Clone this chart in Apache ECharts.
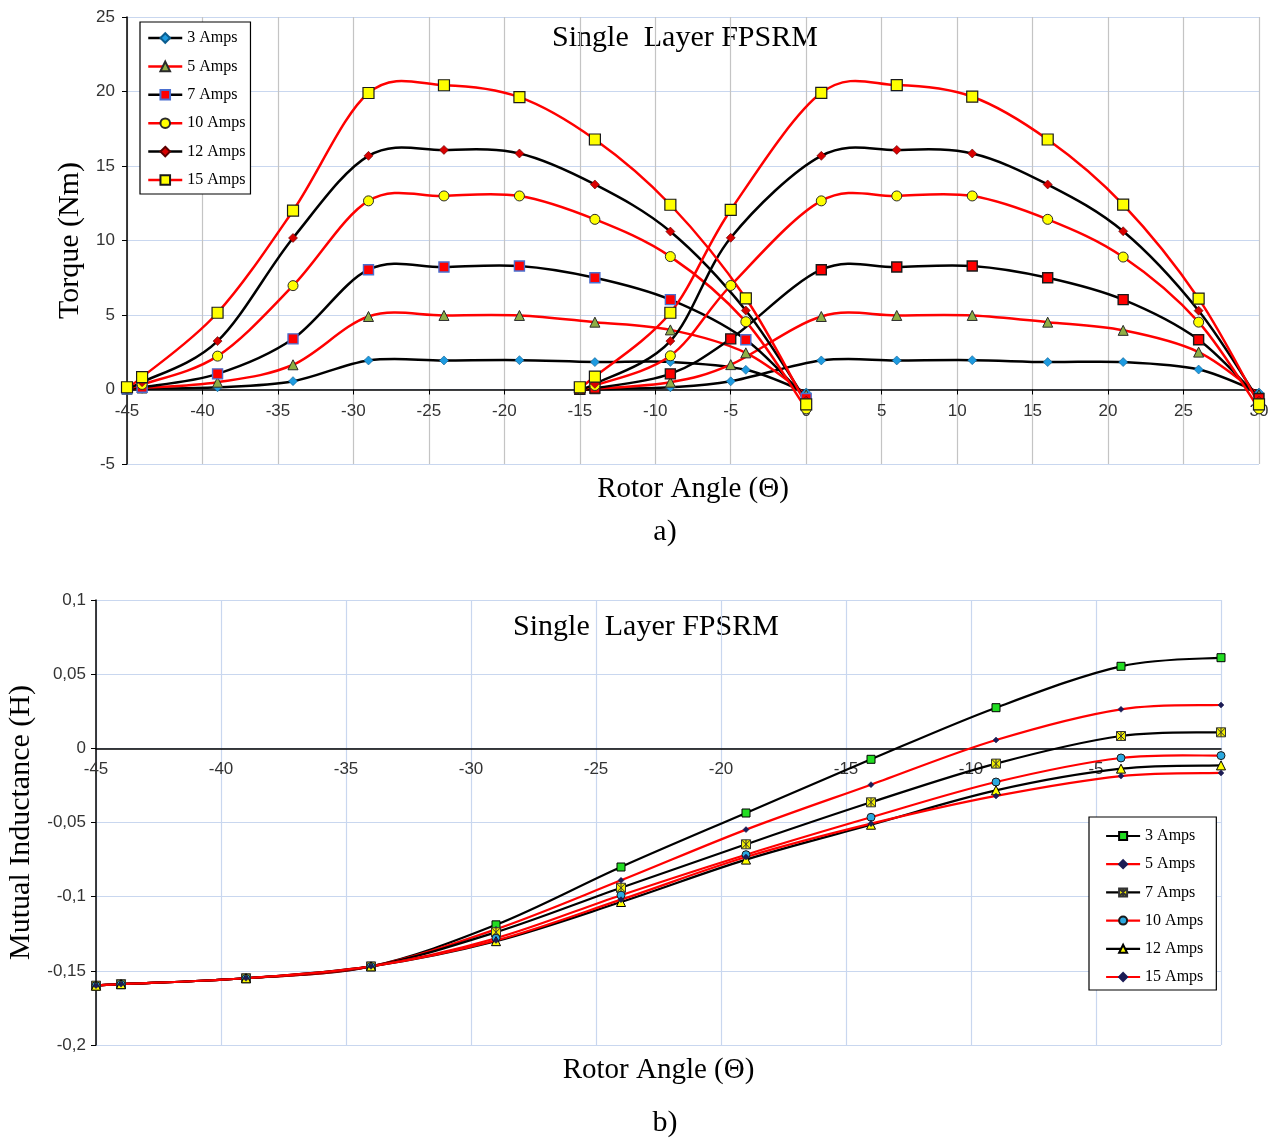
<!DOCTYPE html>
<html>
<head>
<meta charset="utf-8">
<script src="https://cdn.jsdelivr.net/npm/echarts@6/dist/echarts.min.js"></script>
<style>
  html, body { margin: 0; padding: 0; background: #ffffff; }
  #torque { width: 1276px; height: 560px; }
  #inductance { width: 1276px; height: 581px; }
</style>
</head>
<body>
<div id="torque"></div>
<div id="inductance"></div>
<script>
// ---------- data ----------
const currents = ['3 Amps', '5 Amps', '7 Amps', '10 Amps', '12 Amps', '15 Amps'];

// (a) torque vs rotor angle, two consecutive phase strokes
const anglesLeft  = [-45, -44, -39, -34, -29, -24, -19, -14, -9, -4, 0];
const anglesRight = [-15, -14, -9, -5, 1, 6, 11, 16, 21, 26, 30];

const torque3Left   = [0.00, 0.05, 0.15, 0.56, 1.95, 1.95, 1.97, 1.84, 1.85, 1.32, -0.2];
const torque5Left   = [0.02, 0.10, 0.49, 1.66, 4.90, 4.97, 4.97, 4.52, 4.00, 2.46, -0.35];
const torque7Left   = [0.05, 0.15, 1.05, 3.40, 8.04, 8.22, 8.29, 7.50, 6.03, 3.34, -0.6];
const torque10Left  = [0.10, 0.34, 2.24, 6.97, 12.66, 12.99, 12.99, 11.42, 8.92, 4.55, -1.3];
const torque12Left  = [0.10, 0.49, 3.25, 10.17, 15.68, 16.08, 15.84, 13.76, 10.60, 5.30, -0.75];
const torque15Left  = [0.15, 0.83, 5.15, 12.00, 19.90, 20.42, 19.62, 16.78, 12.40, 6.12, -1.0];

const torque3Right  = [0.00, 0.02, 0.15, 0.55, 1.95, 1.95, 1.97, 1.84, 1.84, 1.34, -0.2];
const torque5Right  = [0.00, 0.05, 0.49, 1.67, 4.90, 4.97, 4.97, 4.52, 3.97, 2.51, -0.35];
const torque7Right  = [0.02, 0.09, 1.05, 3.40, 8.04, 8.22, 8.29, 7.50, 6.03, 3.34, -0.6];
const torque10Right = [0.05, 0.27, 2.26, 6.98, 12.66, 12.99, 12.99, 11.42, 8.89, 4.52, -1.3];
const torque12Right = [0.10, 0.38, 3.25, 10.18, 15.68, 16.08, 15.84, 13.76, 10.62, 5.29, -0.75];
const torque15Right = [0.15, 0.87, 5.15, 12.05, 19.91, 20.43, 19.65, 16.78, 12.41, 6.10, -1.0];

// (b) mutual inductance vs rotor angle
const anglesInd = [-45, -44, -39, -34, -29, -24, -19, -14, -9, -4, 0];
const ind3  = [-0.160, -0.159, -0.155, -0.147, -0.119, -0.080, -0.0436, -0.0074, 0.0274, 0.0553, 0.0611];
const ind5  = [-0.160, -0.159, -0.155, -0.147, -0.122, -0.089, -0.0548, -0.0245, 0.0056, 0.0263, 0.0292];
const ind7  = [-0.160, -0.159, -0.155, -0.147, -0.124, -0.094, -0.0647, -0.0364, -0.0103, 0.0083, 0.0108];
const ind10 = [-0.160, -0.159, -0.155, -0.147, -0.128, -0.099, -0.0717, -0.0465, -0.0227, -0.0065, -0.0049];
const ind12 = [-0.160, -0.159, -0.155, -0.147, -0.130, -0.1036, -0.0750, -0.0515, -0.0283, -0.0137, -0.0115];
const ind15 = [-0.160, -0.159, -0.155, -0.147, -0.1295, -0.102, -0.0733, -0.0508, -0.0321, -0.0187, -0.0166];

// ---------- styling ----------
const SERIF = '"Liberation Serif", "Times New Roman", serif';
const SANS = '"Liberation Sans", Arial, sans-serif';
const lineColors = ['#000000', '#ff0000', '#000000', '#ff0000', '#000000', '#ff0000'];

function pairs(xs, ys) { return xs.map((x, i) => [x, ys[i]]); }

// Spreadsheet-style smoothed curve: Catmull-Rom segments through the
// data points, converted to pixels with the grid's own axes.
function smoothCurveSeries(name, points, color, width) {
  return {
    type: 'custom', name, silent: true, z: 2,
    data: points,
    renderItem(params, api) {
      if (params.dataIndex !== 0) return null;
      const px = points.map(p => api.coord(p));
      const children = [];
      for (let k = 0; k < px.length - 1; k++) {
        const p0 = px[k - 1] || px[k], p1 = px[k], p2 = px[k + 1], p3 = px[k + 2] || px[k + 1];
        children.push({
          type: 'bezierCurve',
          shape: {
            x1: p1[0], y1: p1[1], x2: p2[0], y2: p2[1],
            cpx1: p1[0] + (p2[0] - p0[0]) / 6, cpy1: p1[1] + (p2[1] - p0[1]) / 6,
            cpx2: p2[0] - (p3[0] - p1[0]) / 6, cpy2: p2[1] - (p3[1] - p1[1]) / 6
          },
          style: { stroke: color, lineWidth: width, fill: 'none', lineCap: 'round', lineJoin: 'round' }
        });
      }
      return { type: 'group', children };
    }
  };
}

// Marker-only line series (the curve itself is drawn by smoothCurveSeries);
// its lineStyle colour still feeds the legend icon.
function markerSeries(name, points, marker, itemStyle, color) {
  return {
    name, type: 'line', data: points, z: 3,
    symbol: marker.symbol, symbolSize: marker.size, itemStyle,
    lineStyle: { color, width: 2.5, opacity: 0 }
  };
}

const torqueLeft  = [torque3Left, torque5Left, torque7Left, torque10Left, torque12Left, torque15Left];
const torqueRight = [torque3Right, torque5Right, torque7Right, torque10Right, torque12Right, torque15Right];

const torqueMarkers = [
  { symbol: 'diamond',  size: 9,  item: { color: '#1e9be0', borderColor: '#0b5d8f', borderWidth: 0.6 } },
  { symbol: 'triangle', size: 10, item: { color: '#8fae45', borderColor: '#2a2a2a', borderWidth: 1 } },
  { symbol: 'rect',     size: 10, item: { color: '#ff0000', borderColor: '#4a6fd0', borderWidth: 1.4 } },
  { symbol: 'circle',   size: 10, item: { color: '#ffff00', borderColor: '#2a2a2a', borderWidth: 1 } },
  { symbol: 'diamond',  size: 9,  item: { color: '#d90000', borderColor: '#5a0000', borderWidth: 0.6 } },
  { symbol: 'rect',     size: 11, item: { color: '#ffff00', borderColor: '#1a1a1a', borderWidth: 1.2 } }
];

function torqueSeries() {
  const curves = [], markers = [];
  currents.forEach((name, i) => {
    const m = torqueMarkers[i];
    const left = pairs(anglesLeft, torqueLeft[i]);
    const right = pairs(anglesRight, torqueRight[i]);
    curves.push(smoothCurveSeries('curve ' + name + ' L', left, lineColors[i], 2.5));
    curves.push(smoothCurveSeries('curve ' + name + ' R', right, lineColors[i], 2.5));
    const rightItem = Object.assign({}, m.item);
    if (i === 2) rightItem.borderColor = '#1a1a1a';
    markers.push(markerSeries(name, left, m, m.item, lineColors[i]));
    markers.push(markerSeries(name, right, m, rightItem, lineColors[i]));
  });
  return markers.concat(curves);
}

// top chart: y from -5 to 25 over 447 px, x axis sits on the zero line
const torqueGridHeight = 447;
const torqueChart = echarts.init(document.getElementById('torque'), null, { renderer: 'canvas' });
torqueChart.setOption({
  animation: false,
  backgroundColor: '#ffffff',
  grid: { left: 127, right: 17, top: 17, height: torqueGridHeight, outerBoundsMode: 'none', containLabel: false },
  legend: {
    data: currents, orient: 'vertical', left: 140, top: 22,
    padding: [7, 5, 5, 7], itemGap: 10.4, itemWidth: 34, itemHeight: 12,
    textStyle: { fontFamily: SERIF, fontSize: 16, color: '#000', lineHeight: 18 },
    lineStyle: { width: 2.5, opacity: 1 },
    borderColor: '#000', borderWidth: 1.2, borderRadius: 0, backgroundColor: '#fff',
    selectedMode: false
  },
  xAxis: {
    type: 'value', min: -45, max: 30, interval: 5,
    offset: -torqueGridHeight * 5 / 30,
    axisLine: { onZero: false, lineStyle: { color: '#000', width: 1.5 } },
    axisTick: { show: true, length: 5, lineStyle: { color: '#000' } },
    axisLabel: { fontFamily: SANS, fontSize: 17, color: '#333', margin: 13 },
    splitLine: { show: true, lineStyle: { color: '#c4c4c4', width: 1.2 } },
    name: 'Rotor Angle (Θ)', nameLocation: 'middle', nameGap: 85,
    nameTextStyle: { fontFamily: SERIF, fontSize: 29, color: '#000' }
  },
  yAxis: {
    type: 'value', min: -5, max: 25, interval: 5,
    axisLine: { show: true, onZero: false, lineStyle: { color: '#000', width: 1.5 } },
    axisTick: { show: true, length: 5, lineStyle: { color: '#000' } },
    axisLabel: { fontFamily: SANS, fontSize: 17, color: '#333', margin: 12 },
    splitLine: { show: true, lineStyle: { color: '#c9d7ef', width: 1 } },
    name: 'Torque (Nm)', nameLocation: 'middle', nameGap: 31,
    nameTextStyle: { fontFamily: SERIF, fontSize: 30, color: '#000' }
  },
  graphic: [
    { type: 'text', x: 685, y: 38, style: { text: 'Single  Layer FPSRM', font: '30px ' + SERIF, fill: '#000', align: 'center', verticalAlign: 'middle' } },
    { type: 'text', x: 665, y: 532, style: { text: 'a)', font: '30px ' + SERIF, fill: '#000', align: 'center', verticalAlign: 'middle' } }
  ],
  series: torqueSeries()
});

// ---------- (b) inductance ----------
const inductance = [ind3, ind5, ind7, ind10, ind12, ind15];
const starPath = 'path://M0,0L10,0L10,10L0,10Z M0,0L10,10 M10,0L0,10 M5,0L5,10';
const inductanceMarkers = [
  { symbol: 'rect',     size: 8,  item: { color: '#22dd22', borderColor: '#000', borderWidth: 1 } },
  { symbol: 'diamond',  size: 6,  item: { color: '#1c1c55', borderColor: '#1c1c55', borderWidth: 0.5 } },
  { symbol: starPath,   size: 9,  item: { color: '#f2ef00', borderColor: '#333', borderWidth: 1 } },
  { symbol: 'circle',   size: 8,  item: { color: '#2aa8e0', borderColor: '#1a1a1a', borderWidth: 1 } },
  { symbol: 'triangle', size: 9,  item: { color: '#ffff00', borderColor: '#000', borderWidth: 1 } },
  { symbol: 'diamond',  size: 6,  item: { color: '#1c1c55', borderColor: '#1c1c55', borderWidth: 0.5 } }
];

function inductanceSeries() {
  const curves = [], markers = [];
  currents.forEach((name, i) => {
    const pts = pairs(anglesInd, inductance[i]);
    curves.push(smoothCurveSeries('curve ' + name, pts, lineColors[i], 2.2));
    markers.push(markerSeries(name, pts, inductanceMarkers[i], inductanceMarkers[i].item, lineColors[i]));
  });
  return markers.concat(curves);
}

// bottom chart: y from -0.2 to 0.1 over 445 px, x axis sits on the zero line
const indGridHeight = 445;
const inductanceChart = echarts.init(document.getElementById('inductance'), null, { renderer: 'canvas' });
inductanceChart.setOption({
  animation: false,
  backgroundColor: '#ffffff',
  grid: { left: 96, right: 55, top: 40, height: indGridHeight, outerBoundsMode: 'none', containLabel: false },
  legend: {
    data: currents, orient: 'vertical', left: 1089, top: 257,
    padding: [10, 13, 4, 16], itemGap: 10.2, itemWidth: 34, itemHeight: 10,
    textStyle: { fontFamily: SERIF, fontSize: 16, color: '#000', lineHeight: 18 },
    lineStyle: { width: 2.2, opacity: 1 },
    borderColor: '#000', borderWidth: 1.2, borderRadius: 0, backgroundColor: '#fff',
    selectedMode: false
  },
  xAxis: {
    type: 'value', min: -45, max: 0, interval: 5,
    offset: -indGridHeight * 0.2 / 0.3,
    axisLine: { onZero: false, lineStyle: { color: '#000', width: 1.5 } },
    axisTick: { show: false },
    axisLabel: { fontFamily: SANS, fontSize: 17, color: '#333', margin: 12, showMaxLabel: false },
    splitLine: { show: true, lineStyle: { color: '#c9d7ef', width: 1.2 } },
    name: 'Rotor Angle (Θ)', nameLocation: 'middle', nameGap: 308,
    nameTextStyle: { fontFamily: SERIF, fontSize: 29, color: '#000' }
  },
  yAxis: {
    type: 'value', min: -0.2, max: 0.1, interval: 0.05,
    axisLine: { show: true, onZero: false, lineStyle: { color: '#000', width: 1.5 } },
    axisTick: { show: true, length: 5, lineStyle: { color: '#000' } },
    axisLabel: {
      fontFamily: SANS, fontSize: 17, color: '#333', margin: 10,
      formatter: v => String(Math.round(v * 100) / 100).replace('.', ',')
    },
    splitLine: { show: true, lineStyle: { color: '#c9d7ef', width: 1.2 } },
    name: 'Mutual Inductance (H)', nameLocation: 'middle', nameGap: 31,
    nameTextStyle: { fontFamily: SERIF, fontSize: 30, color: '#000' }
  },
  graphic: [
    { type: 'text', x: 646, y: 67, style: { text: 'Single  Layer FPSRM', font: '30px ' + SERIF, fill: '#000', align: 'center', verticalAlign: 'middle' } },
    { type: 'text', x: 665, y: 563, style: { text: 'b)', font: '30px ' + SERIF, fill: '#000', align: 'center', verticalAlign: 'middle' } }
  ],
  series: inductanceSeries()
});
</script>
</body>
</html>
